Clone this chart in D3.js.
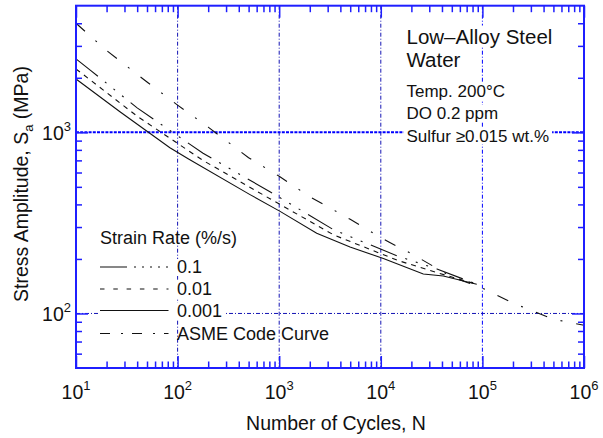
<!DOCTYPE html>
<html><head><meta charset="utf-8">
<script src="https://cdn.jsdelivr.net/npm/d3@7/dist/d3.min.js"></script>
<style>
body{margin:0;background:#fff}
svg{display:block;font-family:"Liberation Sans",Arial,Helvetica,sans-serif}
</style>
</head><body>
<svg id="chart" width="603" height="438"></svg>
<script>
// ---- data ----
const asmeCycles   = [10, 20, 50, 100, 200, 500, 1000, 2000, 5000, 1e4, 1.2e4, 2e4, 5e4, 1e5, 2e5, 5e5, 1e6];
const asmeStress   = [3999, 2827, 1896, 1413, 1069, 724, 572, 441, 331, 262, 248, 214, 159, 138, 114, 93, 86];
const rate01Cycles = [10, 14, 40, 178, 811, 3460, 14800, 35700, 88000];
const rate01Stress = [2545, 2190, 1365, 766, 470, 289, 207, 176, 145];
const rate001Cycles  = [10, 40, 178, 811, 3460, 14800, 35700, 88000];
const rate001Stress  = [2238, 1227, 699, 430, 271, 196, 168, 145];
const rate0001Cycles = [10, 27.5, 84, 127, 516, 1020, 2340, 4980, 10600, 26200, 41200, 88000];
const rate0001Stress = [1970, 1290, 822, 714, 453, 366, 277, 233, 201, 165, 161, 145];
const legendLabels = ["0.1", "0.01", "0.001", "ASME Code Curve"];
const xMajorTicks = [1e1, 1e2, 1e3, 1e4, 1e5, 1e6];
const xTickExponents = ["1", "2", "3", "4", "5", "6"];
const yMajorTicks = [1e2, 1e3];
const yTickExponents = ["2", "3"];
const xGrid = [1e2, 1e3, 1e4, 1e5];
const yGrid = [1e2, 1e3];
const infoLines = ["Low\u2013Alloy Steel", "Water", "Temp. 200\u00B0C", "DO 0.2 ppm", "Sulfur \u22650.015 wt.%"];

// ---- layout ----
const L = 76, R = 584, T = 5.7, B = 368;
const BLUE = "#1f1fff", GRID = "#1414b4";
const svg = d3.select("#chart");
const x = d3.scaleLog().domain([10, 1e6]).range([L, R]);
const y = d3.scaleLog().domain([50, 5000]).range([B, T]);

const xMinor = [];
for (let e = 1; e < 6; e++) for (let k = 2; k <= 9; k++) xMinor.push(k * Math.pow(10, e));
const yMinor = [60, 70, 80, 90, 200, 300, 400, 500, 600, 700, 800, 900, 2000, 3000, 4000];

// grid
const gridG = svg.append("g");
gridG.selectAll("line.gx").data(xGrid).join("line")
  .attr("x1", d => x(d)).attr("x2", d => x(d)).attr("y1", T).attr("y2", B)
  .attr("stroke", d => d === 1e5 ? "#0000ff" : GRID).attr("stroke-width", 1)
  .attr("stroke-dasharray", "4,2,1,2");
gridG.selectAll("line.gy").data(yGrid).join("line")
  .attr("x1", L).attr("x2", R).attr("y1", d => y(d)).attr("y2", d => y(d))
  .attr("stroke", d => d === 1000 ? "#0000ff" : GRID)
  .attr("stroke-width", d => d === 1000 ? 2 : 1)
  .attr("stroke-dasharray", d => d === 1000 ? "3,1.2" : "4,2,1,2");

// info text block with white backgrounds
const infoG = svg.append("g");
const infoStyle = [
  {size: 20.5, base: 43.5}, {size: 20.5, base: 67},
  {size: 17, base: 97}, {size: 17, base: 119}, {size: 17, base: 141.5}
];
infoLines.forEach((t, i) => {
  const g = infoG.append("g");
  const txt = g.append("text").attr("x", 406.5).attr("y", infoStyle[i].base)
    .attr("font-size", infoStyle[i].size).attr("fill", "#111").text(t);
  const bb = txt.node().getBBox();
  g.insert("rect", "text").attr("x", bb.x - 3).attr("y", bb.y + 1)
    .attr("width", bb.width + 6).attr("height", bb.height - 2).attr("fill", "#fff");
});

// curves
const line = d3.line().x(d => x(d[0])).y(d => y(d[1]));
const series = [
  {cyc: rate01Cycles, s: rate01Stress},
  {cyc: rate001Cycles, s: rate001Stress},
  {cyc: rate0001Cycles, s: rate0001Stress},
  {cyc: asmeCycles, s: asmeStress}
];
const dashCurve = ["28,9,2,9,2,9,2,9", "5,5", null, "12,14,2,14"];
const dashLegend = ["27,7,2,6,2,6,2,6,2,6,2", "4.5,8.8", null, "10,11,2,9"];
const curveG = svg.append("g").attr("fill", "none").attr("stroke", "#111").attr("stroke-width", 1.1);
series.forEach((sr, i) => {
  curveG.append("path").datum(sr.cyc.map((c, j) => [c, sr.s[j]]))
    .attr("d", line).attr("stroke-dasharray", dashCurve[i]);
});

// legend
const legG = svg.append("g");
legG.append("text").attr("x", 100).attr("y", 244).attr("font-size", 18).attr("fill", "#111")
  .text("Strain Rate (%/s)");
const rowY = [267, 289, 310.5, 333.5];
legendLabels.forEach((lab, i) => {
  const g = legG.append("g");
  const txt = g.append("text").attr("x", 177).attr("y", rowY[i] + 6).attr("font-size", 18)
    .attr("fill", "#111").text(lab);
  if (i < 3) {
    const bb = txt.node().getBBox();
    g.insert("rect", "text").attr("x", 99).attr("y", bb.y + 2)
      .attr("width", bb.x + bb.width + 3 - 99).attr("height", bb.height - 3).attr("fill", "#fff");
  }
  g.append("line").attr("x1", 100).attr("x2", 168.5).attr("y1", rowY[i]).attr("y2", rowY[i])
    .attr("stroke", "#111").attr("stroke-width", 1.1).attr("stroke-dasharray", dashLegend[i]);
});

// axes ticks (inward) on all four sides
function ticks(axis, vals, size, tr) {
  const g = svg.append("g").attr("transform", tr)
    .call(axis.tickValues(vals).tickSize(-size).tickFormat(""));
  g.select(".domain").remove();
  g.selectAll("line").attr("stroke", BLUE).attr("stroke-width", 1.5);
}
ticks(d3.axisBottom(x), xMinor, 6.5, `translate(0,${B})`);
ticks(d3.axisBottom(x), xMajorTicks, 12, `translate(0,${B})`);
ticks(d3.axisTop(x), xMinor, 6.5, `translate(0,${T})`);
ticks(d3.axisTop(x), xMajorTicks, 12, `translate(0,${T})`);
ticks(d3.axisLeft(y), yMinor, 6, `translate(${L},0)`);
ticks(d3.axisLeft(y), yMajorTicks, 12, `translate(${L},0)`);
ticks(d3.axisRight(y), yMinor, 6, `translate(${R},0)`);
ticks(d3.axisRight(y), yMajorTicks, 12, `translate(${R},0)`);

// frame
svg.append("rect").attr("x", L).attr("y", T).attr("width", R - L).attr("height", B - T)
  .attr("fill", "none").attr("stroke", BLUE).attr("stroke-width", 2);

// tick labels
const xl = svg.append("g").attr("font-size", 19.5).attr("fill", "#111");
xMajorTicks.forEach((v, i) => {
  const t = xl.append("text").attr("x", x(v)).attr("y", 399).attr("text-anchor", "middle");
  t.append("tspan").text("10");
  t.append("tspan").attr("dy", -9).attr("font-size", 13).text(xTickExponents[i]);
});
const yl = svg.append("g").attr("font-size", 19.5).attr("fill", "#111");
yMajorTicks.forEach((v, i) => {
  const t = yl.append("text").attr("x", 71).attr("y", y(v) + 7.5).attr("text-anchor", "end");
  t.append("tspan").text("10");
  t.append("tspan").attr("dy", -9).attr("font-size", 13).text(yTickExponents[i]);
});

// axis titles
svg.append("text").attr("x", 336).attr("y", 430).attr("text-anchor", "middle")
  .attr("font-size", 19.5).attr("fill", "#111").text("Number of Cycles, N");
const yt = svg.append("text").attr("transform", "translate(28,184) rotate(-90)")
  .attr("text-anchor", "middle").attr("font-size", 19.5).attr("fill", "#111");
yt.append("tspan").text("Stress Amplitude, S");
yt.append("tspan").attr("dy", 5).attr("font-size", 13).text("a");
yt.append("tspan").attr("dy", -5).text(" (MPa)");
</script>
</body></html>
